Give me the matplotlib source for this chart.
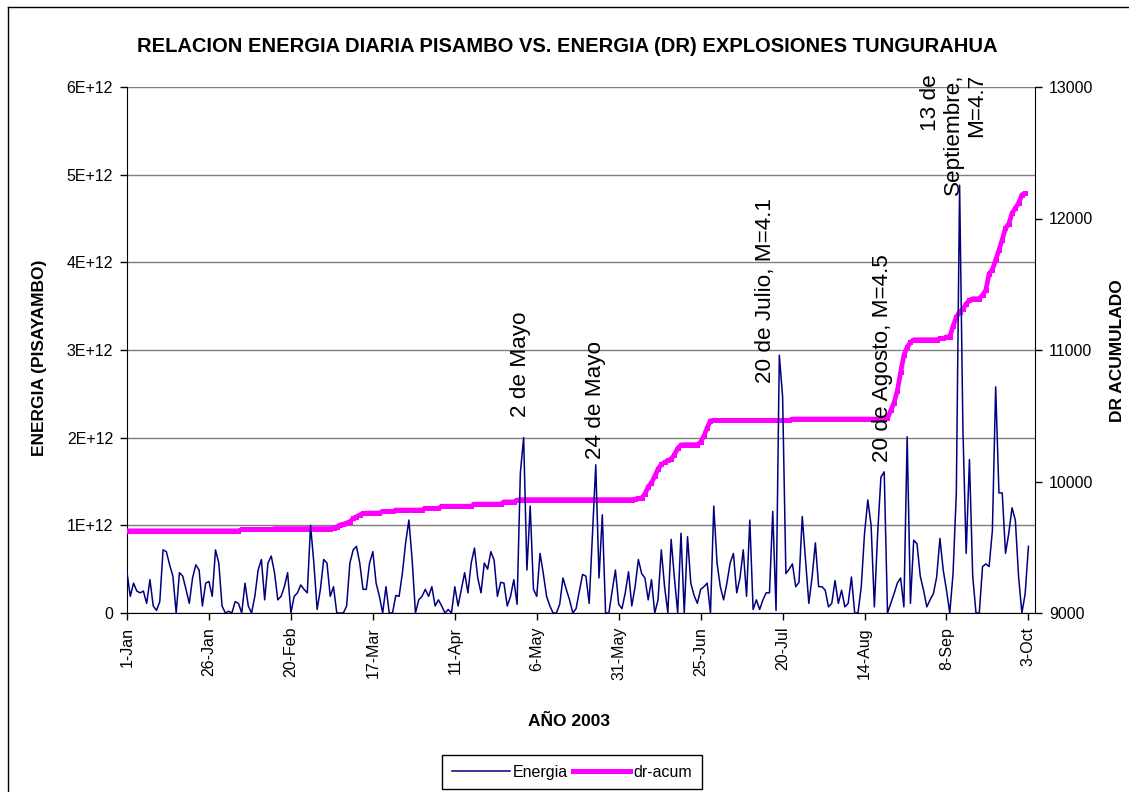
import numpy as np
import pandas as pd
import matplotlib
matplotlib.use('Agg')
import matplotlib.pyplot as plt
import matplotlib.dates as mdates
from matplotlib.lines import Line2D

plt.rcParams['font.family'] = ['Liberation Sans', 'DejaVu Sans']

# daily energy (units of 1E+12), from 1-Jan-2003
energia = [
    0.46, 0.19, 0.34, 0.25, 0.23, 0.25, 0.11, 0.38, 0.08, 0.03,
    0.13, 0.72, 0.70, 0.55, 0.42, 0.00, 0.46, 0.42, 0.27, 0.11,
    0.40, 0.55, 0.49, 0.08, 0.34, 0.36, 0.19, 0.72, 0.57, 0.08,
    0.00, 0.02, 0.00, 0.13, 0.11, 0.00, 0.34, 0.08, 0.00, 0.19,
    0.49, 0.61, 0.15, 0.57, 0.65, 0.46, 0.15, 0.19, 0.30, 0.46,
    0.00, 0.19, 0.23, 0.32, 0.27, 0.23, 1.00, 0.57, 0.04, 0.27,
    0.61, 0.57, 0.19, 0.30, 0.00, 0.00, 0.00, 0.08, 0.57, 0.72,
    0.76, 0.57, 0.27, 0.27, 0.57, 0.70, 0.34, 0.19, 0.00, 0.30,
    0.00, 0.00, 0.20, 0.19, 0.45, 0.80, 1.06, 0.60, 0.00, 0.15,
    0.19, 0.27, 0.19, 0.30, 0.08, 0.15, 0.08, 0.00, 0.04, 0.00,
    0.30, 0.08, 0.27, 0.46, 0.23, 0.57, 0.74, 0.40, 0.23, 0.57,
    0.50, 0.70, 0.60, 0.19, 0.35, 0.34, 0.08, 0.19, 0.38, 0.10,
    1.60, 2.00, 0.49, 1.22, 0.27, 0.19, 0.68, 0.45, 0.19, 0.08,
    0.00, 0.00, 0.10, 0.40, 0.27, 0.15, 0.00, 0.05, 0.25, 0.44,
    0.42, 0.11, 0.90, 1.69, 0.40, 1.12, 0.00, 0.00, 0.25, 0.49,
    0.10, 0.05, 0.23, 0.47, 0.08, 0.30, 0.61, 0.45, 0.40, 0.15,
    0.38, 0.00, 0.15, 0.72, 0.30, 0.00, 0.84, 0.40, 0.00, 0.91,
    0.00, 0.87, 0.34, 0.20, 0.11, 0.27, 0.30, 0.34, 0.00, 1.22,
    0.57, 0.30, 0.15, 0.34, 0.57, 0.68, 0.23, 0.40, 0.72, 0.19,
    1.06, 0.04, 0.15, 0.04, 0.15, 0.23, 0.23, 1.16, 0.03, 2.94,
    2.47, 0.45, 0.50, 0.56, 0.30, 0.35, 1.10, 0.60, 0.11, 0.41,
    0.80, 0.30, 0.30, 0.26, 0.07, 0.11, 0.37, 0.11, 0.26, 0.07,
    0.11, 0.41, 0.00, 0.00, 0.30, 0.91, 1.29, 1.00, 0.07, 0.91,
    1.55, 1.61, 0.00, 0.11, 0.22, 0.34, 0.40, 0.07, 2.01, 0.11,
    0.83, 0.79, 0.42, 0.26, 0.07, 0.15, 0.22, 0.41, 0.85, 0.49,
    0.26, 0.00, 0.45, 1.37, 4.88, 2.11, 0.68, 1.75, 0.42, 0.00,
    0.00, 0.53, 0.56, 0.53, 0.94, 2.58, 1.37, 1.37, 0.68, 0.91,
    1.20, 1.06, 0.41, 0.00, 0.22, 0.76,
]

# accumulated DR, same start date
dr_acum = [
    9625, 9625, 9625, 9625, 9625, 9625, 9625, 9625, 9625, 9625,
    9625, 9625, 9625, 9625, 9625, 9625, 9625, 9625, 9625, 9625,
    9625, 9625, 9625, 9625, 9625, 9625, 9625, 9625, 9625, 9625,
    9625, 9625, 9625, 9625, 9625, 9635, 9635, 9635, 9635, 9635,
    9635, 9635, 9635, 9635, 9635, 9642, 9642, 9642, 9642, 9642,
    9642, 9642, 9642, 9642, 9642, 9642, 9642, 9642, 9642, 9642,
    9642, 9642, 9642, 9645, 9655, 9669, 9675, 9685, 9694, 9720,
    9732, 9745, 9758, 9760, 9760, 9760, 9760, 9760, 9772, 9772,
    9772, 9772, 9783, 9783, 9783, 9783, 9783, 9783, 9783, 9783,
    9783, 9796, 9796, 9796, 9796, 9796, 9812, 9812, 9812, 9812,
    9812, 9812, 9812, 9812, 9812, 9812, 9828, 9828, 9828, 9828,
    9828, 9828, 9828, 9828, 9828, 9845, 9845, 9845, 9845, 9858,
    9862, 9862, 9862, 9862, 9862, 9862, 9862, 9862, 9862, 9862,
    9862, 9862, 9862, 9862, 9862, 9862, 9862, 9862, 9862, 9862,
    9862, 9862, 9862, 9862, 9862, 9862, 9862, 9862, 9862, 9862,
    9862, 9862, 9862, 9862, 9862, 9866, 9872, 9875, 9905, 9960,
    9990, 10040, 10095, 10130, 10145, 10160, 10170, 10205, 10252, 10278,
    10280, 10280, 10280, 10280, 10280, 10300, 10345, 10410, 10462, 10465,
    10465, 10465, 10465, 10465, 10465, 10465, 10465, 10465, 10465, 10465,
    10465, 10465, 10465, 10465, 10465, 10465, 10465, 10465, 10465, 10465,
    10465, 10465, 10465, 10475, 10475, 10475, 10475, 10475, 10475, 10475,
    10475, 10475, 10475, 10475, 10475, 10475, 10475, 10475, 10475, 10475,
    10475, 10475, 10475, 10475, 10475, 10475, 10475, 10475, 10475, 10475,
    10475, 10475, 10480, 10540, 10600, 10690, 10830, 10960, 11020, 11060,
    11078, 11078, 11078, 11078, 11078, 11078, 11078, 11078, 11088, 11088,
    11100, 11100, 11180, 11250, 11290, 11310, 11350, 11378, 11390, 11390,
    11390, 11418, 11456, 11580, 11610, 11685, 11760, 11840, 11925, 11960,
    12040, 12078, 12116, 12180, 12195,
]

left_ticks = [0, 1, 2, 3, 4, 5, 6]
left_labels = ['0', '1E+12', '2E+12', '3E+12', '4E+12', '5E+12', '6E+12']
right_ticks = [9000, 10000, 11000, 12000, 13000]

dates = pd.date_range('2003-01-01', periods=len(energia), freq='D')
dr_dates = dates[:len(dr_acum)]
tick_dates = pd.date_range('2003-01-01', '2003-10-03', freq='25D')

W, H = 1129, 792
fig = plt.figure(figsize=(W / 100, H / 100), dpi=100, facecolor='white')
rect = [127 / W, 1 - 613 / H, 908 / W, 526 / H]

# left axis (grid + ticks)
ax = fig.add_axes(rect)
ax.set_ylim(0, 6)
ax.set_yticks(left_ticks)
ax.set_yticklabels(left_labels)
ax.grid(axis='y', color='#7f7f7f', lw=1.0)
ax.set_xlim(pd.Timestamp('2003-01-01'), pd.Timestamp('2003-10-05'))
ax.set_xticks(tick_dates)
ax.xaxis.set_major_formatter(mdates.DateFormatter('%-d-%b'))
for lab in ax.get_xticklabels():
    lab.set_rotation(90)
ax.tick_params(axis='both', direction='out', length=5, width=1, labelsize=11.5, pad=5)
ax.spines['top'].set_visible(False)
ax.spines['right'].set_visible(False)

# right axis with the accumulated DR
ax2 = ax.twinx()
ax2.plot(dr_dates, dr_acum, color='#FF00FF', lw=3.4, solid_capstyle='butt',
         marker='s', markersize=3.6, markeredgewidth=0, label='dr-acum')
ax2.set_ylim(9000, 13000)
ax2.set_yticks(right_ticks)
ax2.tick_params(axis='y', direction='out', length=5, width=1, labelsize=11.5, pad=5)
ax2.spines['top'].set_visible(False)
ax2.spines['left'].set_visible(False)
ax2.spines['bottom'].set_visible(False)

# energy line on top
ax3 = ax.twinx()
ax3.plot(dates, energia, color='#000080', lw=1.1, label='Energia')
ax3.set_ylim(0, 6)
ax3.axis('off')

# event labels
def day(n):
    return dates[0] + pd.Timedelta(days=n)

lab_kw = dict(rotation=90, ha='center', va='bottom', fontsize=16.2, clip_on=False)
ax3.text(day(120.0), 2.24, '2 de Mayo', **lab_kw)
ax3.text(day(142.8), 1.76, '24 de Mayo', **lab_kw)
ax3.text(day(194.7), 2.62, '20 de Julio, M=4.1', **lab_kw)
ax3.text(day(230.4), 1.72, '20 de Agosto, M=4.5', **lab_kw)
ax3.text(day(252.2), 6.15, '13 de\nSeptiembre,\nM=4.7', rotation=90, ha='center', va='top',
         multialignment='right', fontsize=16.2, linespacing=1.15, clip_on=False)

fig.text(567 / W, 1 - 47 / H,
         'RELACION ENERGIA DIARIA PISAMBO VS. ENERGIA (DR) EXPLOSIONES TUNGURAHUA',
         ha='center', va='center', fontsize=14.5, fontweight='bold')
fig.text(40 / W, 1 - 358 / H, 'ENERGIA (PISAYAMBO)', rotation=90, ha='center', va='center',
         fontsize=12.5, fontweight='bold')
fig.text(1118 / W, 1 - 351 / H, 'DR ACUMULADO', rotation=90, ha='center', va='center',
         fontsize=12.5, fontweight='bold')
fig.text(569 / W, 1 - 721 / H, 'AÑO 2003', ha='center', va='center',
         fontsize=12.5, fontweight='bold')

handles = [Line2D([], [], color='#000080', lw=1.1), Line2D([], [], color='#FF00FF', lw=3.6)]
leg = fig.legend(handles, ['Energia', 'dr-acum'], loc='upper center',
                 bbox_to_anchor=(572 / W, 1 - 755 / H), ncol=2, fontsize=11.5,
                 frameon=True, fancybox=False, edgecolor='black', framealpha=1,
                 handlelength=3.6, handletextpad=0.2, columnspacing=0.3,
                 borderpad=0.6, borderaxespad=0)
leg.get_frame().set_linewidth(1.0)

# chart area border
fig.add_artist(Line2D([8 / W, 1], [1 - 7 / H, 1 - 7 / H], color='black', lw=1))
fig.add_artist(Line2D([8 / W, 8 / W], [0, 1 - 7 / H], color='black', lw=1))

fig.savefig('out.png', dpi=100, facecolor='white')
